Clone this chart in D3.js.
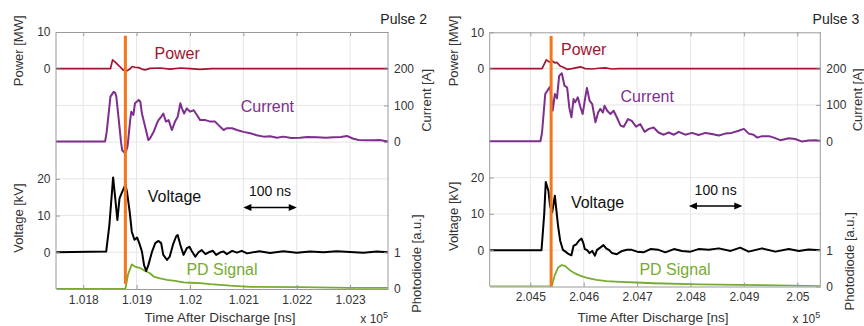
<!DOCTYPE html>
<html>
<head>
<meta charset="utf-8">
<script src="https://cdn.jsdelivr.net/npm/d3@7"></script>
<style>
  body { margin: 0; background: #fff; }
  svg { display: block; font-family: "Liberation Sans", Arial, sans-serif; }
</style>
</head>
<body>
<svg id="chart" width="864" height="326"></svg>
<script>
// DATA  (time in ns, values in the units of each axis)
const pulse2Power = [[101749,0],[101851,0],[101855,2.4],[101860,1.8],[101867,0.8],[101875,-0.4],[101882,-0.6],[101888,0],[101892,0.6],[101897,0.4],[101904,0.3],[101910,-0.1],[101916,-0.3],[101925,0.1],[101944,0.2],[101963,-0.1],[101982,0.2],[102000,0],[102019,-0.2],[102040,0],[102371,0]];
const pulse2Current = [[101749,2],[101841,2],[101844,28],[101851,124],[101857,137],[101860,134],[101862,124],[101866,69],[101871,-2],[101873,-22],[101879,-31],[101883,-12],[101888,60],[101890,83],[101894,74],[101897,106],[101904,115],[101907,110],[101910,78],[101916,42],[101922,6],[101925,10],[101932,28],[101938,51],[101941,60],[101946,69],[101950,78],[101955,56],[101960,60],[101966,33],[101972,56],[101977,69],[101982,106],[101985,92],[101989,78],[101994,92],[102000,83],[102007,87],[102013,74],[102019,60],[102029,60],[102038,56],[102047,56],[102053,47],[102063,33],[102069,38],[102079,38],[102088,33],[102100,28],[102113,24],[102125,19],[102138,15],[102150,16],[102163,12],[102175,15],[102190,11],[102206,12],[102220,14],[102238,13],[102255,12],[102269,13],[102283,14],[102294,17],[102305,10],[102316,6],[102330,5],[102344,5],[102355,6],[102371,2]];
const pulse2Voltage = [[101749,0],[101843,0.2],[101849,7.4],[101856,20.4],[101860,14.7],[101864,8.8],[101868,14.7],[101872,16.1],[101879,18.4],[101882,16.5],[101887,11.1],[101891,5.6],[101896,3.4],[101901,4.0],[101905,2.5],[101910,0.2],[101914,-3.5],[101918,-5.1],[101922,-3.5],[101929,0.2],[101935,2.5],[101941,3.1],[101946,2.5],[101950,-0.7],[101957,-2.1],[101962,-1.2],[101968,2.0],[101974,4.3],[101977,4.7],[101982,2.0],[101988,-0.7],[101994,1.1],[101999,1.5],[102003,0.4],[102010,-1.2],[102016,0],[102022,0.6],[102029,-0.5],[102035,0],[102043,0.4],[102049,-0.7],[102057,0],[102063,0.2],[102069,-0.5],[102079,0.4],[102088,-0.1],[102097,0.4],[102107,-0.3],[102130,0.3],[102150,-0.2],[102175,0.3],[102200,-0.1],[102225,0.2],[102250,0],[102275,0.3],[102300,0.1],[102325,-0.1],[102350,0.2],[102371,0]];
const pulse2PD = [[101749,0],[101879,0],[101884,0.4],[101891,0.67],[101897,0.61],[101907,0.57],[101916,0.49],[101925,0.43],[101932,0.34],[101944,0.29],[101957,0.25],[101972,0.22],[101988,0.18],[102000,0.17],[102019,0.16],[102038,0.13],[102057,0.11],[102075,0.09],[102113,0.06],[102206,0.05],[102300,0.03],[102371,0.03]];

const pulse3Power = [[204424,0],[204522,0],[204530,2.4],[204536,1.8],[204541,2.1],[204546,1.6],[204550,1.7],[204556,0.7],[204563,0.3],[204569,-0.2],[204578,0],[204594,0.5],[204603,0],[204616,-0.1],[204628,0.1],[204640,0.2],[204653,-0.1],[204666,0],[205043,0]];
const pulse3Current = [[204424,0],[204519,0],[204522,24],[204528,130],[204534,144],[204537,150],[204542,84],[204546,130],[204550,118],[204554,180],[204559,187],[204564,153],[204569,148],[204573,93],[204577,66],[204581,116],[204584,107],[204589,121],[204594,93],[204598,75],[204603,121],[204606,147],[204611,112],[204616,102],[204622,52],[204627,79],[204631,89],[204636,79],[204639,98],[204644,84],[204650,75],[204656,84],[204662,66],[204669,43],[204675,40],[204683,61],[204690,56],[204698,40],[204706,47],[204714,26],[204722,34],[204731,38],[204740,24],[204750,18],[204759,24],[204769,18],[204778,26],[204790,18],[204803,23],[204815,17],[204828,23],[204840,20],[204853,16],[204865,21],[204877,23],[204890,29],[204900,34],[204909,21],[204918,18],[204925,10],[204934,14],[204947,14],[204956,10],[204968,3],[204984,8],[204996,6],[205009,-1],[205021,2],[205034,3],[205043,1]];
const pulse3Voltage = [[204424,0],[204521,0],[204526,9.8],[204529,18.8],[204534,16.3],[204537,12.2],[204541,10.4],[204546,15],[204548,12.2],[204552,6.7],[204556,2.6],[204561,0.1],[204566,-0.4],[204572,-1.1],[204577,-1.4],[204581,1.2],[204586,1.6],[204591,2.6],[204596,3.2],[204599,2.1],[204602,0.3],[204606,0.1],[204611,-0.8],[204616,-0.2],[204621,-1.5],[204625,0.1],[204631,0.7],[204637,1.4],[204642,0.5],[204647,0.1],[204653,-0.8],[204662,-1.1],[204672,-0.2],[204681,0.1],[204690,0.1],[204700,-0.4],[204712,-0.6],[204725,0.3],[204740,0.1],[204753,-0.6],[204769,0.3],[204784,-0.2],[204800,-0.4],[204815,0.3],[204834,0.1],[204853,0.5],[204875,-0.2],[204893,0.7],[204909,-0.4],[204934,0.5],[204959,-0.4],[204984,0.3],[205003,-0.2],[205021,0.2],[205043,0]];
const pulse3PD = [[204424,0],[204540,0],[204546,0.32],[204552,0.52],[204559,0.59],[204565,0.57],[204574,0.45],[204584,0.36],[204593,0.30],[204606,0.24],[204624,0.18],[204643,0.15],[204668,0.13],[204699,0.11],[204730,0.09],[204818,0.06],[204930,0.04],[205042,0.01]];

const powerTicks = [0, 10];
const currentTicks = [0, 100, 200];
const voltageTicks = [0, 10, 20];
const pdTicks = [0, 1];

// COLORS
const cPower = "#a2142f";
const cCurrent = "#7e2f8e";
const cVoltage = "#000000";
const cPD = "#77ac30";
const cMarker = "#f5761a";
const cAxis = "#9a9a9a";
const cGrid = "#e6e6e6";
const cText = "#333333";

const svg = d3.select("#chart");

const panels = [
  {
    title: "Pulse 2", left: 56, right: 388, top: 32, bottom: 289,
    domain: [101749, 102371], xTicks: d3.range(101800, 102301, 100),
    power: pulse2Power, current: pulse2Current, voltage: pulse2Voltage, pd: pulse2PD,
    marker: 101879, markerPD: 0.14, arrow: 102100,
    labels: { power: [101976, 2.6], current: [102145, 82], voltage: [101971, 13.7], pd: [102060, 0.39] },
    yTitleL: 18, yTitleR: [426, 416]
  },
  {
    title: "Pulse 3", left: 489.7, right: 820.3, top: 32.3, bottom: 286.5,
    domain: [204424, 205043], xTicks: d3.range(204500, 205001, 100),
    power: pulse3Power, current: pulse3Current, voltage: pulse3Voltage, pd: pulse3PD,
    marker: 204539, markerPD: 0, arrow: 204797,
    labels: { power: [204600, 3.7], current: [204719, 109], voltage: [204626, 11.6], pd: [204771, 0.33] },
    yTitleL: 453, yTitleR: [857, 849]
  }
];

function fmtX(v) {
  return (v / 1e5).toFixed(3).replace(/0+$/, "");
}
const fmtY = d3.format("d");

function styleAxis(g) {
  g.selectAll(".domain").attr("stroke", cAxis);
  g.selectAll(".tick line").attr("stroke", cAxis);
  g.selectAll(".tick text").attr("fill", cText).attr("font-size", "12px")
    .attr("font-family", "Liberation Sans, Arial, sans-serif");
}

panels.forEach((p, i) => {
  const row = (p.bottom - p.top) / 7;
  const yRow = (k) => p.top + k * row;

  const x = d3.scaleLinear().domain(p.domain).range([p.left, p.right]);
  const yPower = d3.scaleLinear().domain([0, 10]).range([yRow(1), yRow(0)]);
  const yCurrent = d3.scaleLinear().domain([0, 200]).range([yRow(3), yRow(1)]);
  const yVoltage = d3.scaleLinear().domain([0, 20]).range([yRow(6), yRow(4)]);
  const yPD = d3.scaleLinear().domain([0, 1]).range([yRow(7), yRow(6)]);

  const g = svg.append("g");

  // grid
  g.selectAll(".vgrid").data(p.xTicks).join("line")
    .attr("x1", (d) => x(d)).attr("x2", (d) => x(d))
    .attr("y1", p.top).attr("y2", p.bottom)
    .attr("stroke", cGrid).attr("stroke-width", 1);
  const hLines = [yPower(0), yCurrent(100), yCurrent(0), yVoltage(20), yVoltage(10), yVoltage(0)];
  g.selectAll(".hgrid").data(hLines).join("line")
    .attr("x1", p.left).attr("x2", p.right)
    .attr("y1", (d) => d).attr("y2", (d) => d)
    .attr("stroke", cGrid).attr("stroke-width", 1);

  // clip
  const clipId = "clip" + i;
  svg.append("clipPath").attr("id", clipId).append("rect")
    .attr("x", p.left).attr("y", p.top)
    .attr("width", p.right - p.left).attr("height", p.bottom - p.top);

  const plot = g.append("g").attr("clip-path", `url(#${clipId})`);

  function drawSeries(data, yScale, color, width) {
    plot.append("path")
      .datum(data)
      .attr("fill", "none")
      .attr("stroke", color)
      .attr("stroke-width", width)
      .attr("stroke-linejoin", "round")
      .attr("d", d3.line().x((d) => x(d[0])).y((d) => yScale(d[1])));
  }

  drawSeries(p.pd, yPD, cPD, 1.8);
  drawSeries(p.voltage, yVoltage, cVoltage, 2);
  drawSeries(p.current, yCurrent, cCurrent, 2);
  drawSeries(p.power, yPower, cPower, 1.7);

  // orange marker
  g.append("line")
    .attr("x1", x(p.marker)).attr("x2", x(p.marker))
    .attr("y1", yPower(9)).attr("y2", yPD(p.markerPD))
    .attr("stroke", cMarker).attr("stroke-width", 3);

  // axes (ticks pointing inward, box)
  const gx = g.append("g").attr("transform", `translate(0,${p.bottom})`)
    .call(d3.axisBottom(x).tickValues(p.xTicks).tickFormat(fmtX)
      .tickSizeInner(-4).tickSizeOuter(0).tickPadding(6));
  styleAxis(gx);
  const gxt = g.append("g").attr("transform", `translate(0,${p.top})`)
    .call(d3.axisTop(x).tickValues(p.xTicks).tickFormat("")
      .tickSizeInner(-4).tickSizeOuter(0));
  styleAxis(gxt);

  [[yPower, powerTicks], [yVoltage, voltageTicks]].forEach(([s, t]) => {
    const ga = g.append("g").attr("transform", `translate(${p.left},0)`)
      .call(d3.axisLeft(s).tickValues(t).tickFormat(fmtY)
        .tickSizeInner(-4).tickSizeOuter(0).tickPadding(5.5));
    ga.select(".domain").remove();
    styleAxis(ga);
  });
  [[yCurrent, currentTicks], [yPD, pdTicks]].forEach(([s, t]) => {
    const ga = g.append("g").attr("transform", `translate(${p.right},0)`)
      .call(d3.axisRight(s).tickValues(t).tickFormat(fmtY)
        .tickSizeInner(-4).tickSizeOuter(0).tickPadding(6));
    ga.select(".domain").remove();
    styleAxis(ga);
  });
  g.append("line").attr("x1", p.left).attr("x2", p.left).attr("y1", p.top).attr("y2", p.bottom)
    .attr("stroke", cAxis);
  g.append("line").attr("x1", p.right).attr("x2", p.right).attr("y1", p.top).attr("y2", p.bottom)
    .attr("stroke", cAxis);

  // axis titles
  function yTitle(tx, ty, text) {
    g.append("text")
      .attr("transform", `translate(${tx},${ty}) rotate(-90)`)
      .attr("text-anchor", "middle").attr("dy", "0.35em")
      .attr("font-size", "13px").attr("fill", cText)
      .text(text);
  }
  yTitle(p.yTitleL, (yPower(10) + yPower(0)) / 2 + 0.5, "Power [MW]");
  yTitle(p.yTitleL, yVoltage(10) + 2.5, "Voltage [kV]");
  yTitle(p.yTitleR[0], yCurrent(100) - 5, "Current [A]");
  yTitle(p.yTitleR[1], (yPD(1) + yPD(0)) / 2 - 7, "Photodiode [a.u.]");

  g.append("text")
    .attr("x", (p.left + p.right) / 2 - 2).attr("y", 322)
    .attr("text-anchor", "middle").attr("font-size", "13.5px").attr("fill", cText)
    .text("Time After Discharge [ns]");

  const ex = g.append("text")
    .attr("x", p.right).attr("y", 323)
    .attr("text-anchor", "end").attr("font-size", "12px").attr("fill", cText);
  ex.append("tspan").text("x 10");
  ex.append("tspan").attr("font-size", "9px").attr("dy", "-5").text("5");

  g.append("text")
    .attr("x", p.right + 39).attr("y", 24)
    .attr("text-anchor", "end").attr("font-size", "14px").attr("fill", "#222")
    .text(p.title);

  // series labels
  const lab = [
    ["Power", p.labels.power, yPower, cPower],
    ["Current", p.labels.current, yCurrent, cCurrent],
    ["Voltage", p.labels.voltage, yVoltage, "#111"],
    ["PD Signal", p.labels.pd, yPD, cPD]
  ];
  lab.forEach(([t, pos, s, c]) => {
    g.append("text")
      .attr("x", x(pos[0])).attr("y", s(pos[1]))
      .attr("text-anchor", "middle").attr("font-size", "16px").attr("fill", c)
      .text(t);
  });

  // 100 ns scale arrow
  const ay = yVoltage(12.2);
  const ax0 = x(p.arrow), ax1 = x(p.arrow + 100);
  g.append("line").attr("x1", ax0 + 2).attr("x2", ax1 - 2).attr("y1", ay).attr("y2", ay)
    .attr("stroke", "#000").attr("stroke-width", 1.5);
  [[ax0, 1], [ax1, -1]].forEach(([ax, dir]) => {
    g.append("path")
      .attr("d", `M${ax},${ay} L${ax + dir * 8},${ay - 3.5} L${ax + dir * 8},${ay + 3.5} Z`)
      .attr("fill", "#000");
  });
  g.append("text")
    .attr("x", (ax0 + ax1) / 2).attr("y", yVoltage(15.3))
    .attr("text-anchor", "middle").attr("font-size", "14px").attr("fill", "#111")
    .text("100 ns");
});
</script>
</body>
</html>
